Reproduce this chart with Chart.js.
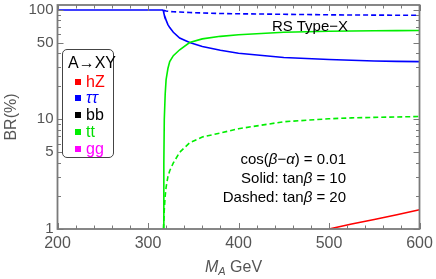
<!DOCTYPE html>
<html>
<head>
<meta charset="utf-8">
<script src="https://cdn.jsdelivr.net/npm/chart.js@4/dist/chart.umd.min.js"></script>
<style>
  html, body { margin: 0; padding: 0; background: #fff; }
  #wrap { position: relative; width: 436px; height: 279px; font-family: "Liberation Sans", Arial, sans-serif; }
  #chart { position: absolute; left: 0; top: 0; }
  .note { position: absolute; font-size: 15px; color: #000; white-space: nowrap; line-height: 1; }
  .legend {
    position: absolute; left: 62px; top: 49px; width: 52px; height: 109px;
    border: 1px solid #444; border-radius: 5px; background: #fff; box-sizing: border-box;
  }
  .legend .ttl { position: absolute; left: 5px; top: 5px; font-size: 16px; color: #000; line-height: 1; }
  .legend .item { position: absolute; left: 12px; font-size: 16px; line-height: 1; }
  .legend .sq { display: inline-block; width: 6px; height: 6px; margin-right: 5px; vertical-align: 2px; }
  .xtitle { position: absolute; left: 205px; top: 259px; font-size: 16px; color: #555; white-space: nowrap; line-height: 1; }
  .xtitle sub { font-size: 11px; vertical-align: -3px; }
</style>
</head>
<body>
<div id="wrap">
  <canvas id="chart" width="436" height="279"></canvas>

  <div class="legend">
    <div class="ttl">A→XY</div>
    <div class="item" style="top:24px;color:#ff0000"><span class="sq" style="background:#ff0000"></span>hZ</div>
    <div class="item" style="top:40px;color:#0000ff"><span class="sq" style="background:#0000ff"></span><i>ττ</i></div>
    <div class="item" style="top:57px;color:#000000"><span class="sq" style="background:#000000"></span>bb</div>
    <div class="item" style="top:74px;color:#00dd00"><span class="sq" style="background:#00ee00"></span>tt</div>
    <div class="item" style="top:91px;color:#ff00ff"><span class="sq" style="background:#ff00ff"></span>gg</div>
  </div>

  <div class="note" style="left:272px;top:18px">RS Type−X</div>
  <div class="note" style="right:90px;top:151px">cos(<i>β</i>−<i>α</i>) = 0.01</div>
  <div class="note" style="right:90px;top:170px">Solid: tan<i>β</i> = 10</div>
  <div class="note" style="right:90px;top:189px">Dashed: tan<i>β</i> = 20</div>
  <div class="xtitle"><i>M</i><sub><i>A</i></sub> GeV</div>
</div>

<script>
// M_A grid (GeV)
const mA = [200, 250, 300, 316, 317, 317.5, 318, 319, 320, 322, 324, 328, 335, 346, 360, 380, 400, 450, 500, 525, 550, 575, 600];

// branching ratios in %, null where the channel is closed
const tauSolid  = [99, 99, 99, 99, 97, 93, 89, 85, 80, 73, 68.5, 62, 55, 50, 46, 42.5, 40, 36.6, 35, 34.5, 34, 33.7, 33.5];
const ttSolid   = [null, null, null, null, 1, 4, 10, 17, 23, 29, 33.5, 38, 43, 50, 54, 57, 59, 62, 63.5, 63.8, 64, 64.3, 64.5];
const hzSolid   = [null, null, null, null, null, null, null, null, null, null, null, null, null, null, null, null, null, null, 1, 1.11, 1.22, 1.35, 1.5];
const tauDashed = [null, null, null, null, 99, 98.5, 98, 97.5, 97, 96.5, 96, 95.5, 95, 94, 93, 92, 91.5, 90.5, 89.5, 89.2, 89, 88.8, 88.7];
const ttDashed  = [null, null, null, null, 1, 1.2, 1.5, 2, 2.4, 3, 3.4, 4, 5, 6.1, 6.9, 7.5, 8.2, 9.5, 10.1, 10.3, 10.4, 10.5, 10.6];

const xTicks = [200, 300, 400, 500, 600];
const yTicks = [1, 5, 10, 50, 100];

const toPts = (vals) => mA.map((m, i) => ({ x: m, y: vals[i] }));

const axisGray = '#7a7a7a';
const labelGray = '#555';

function line(label, vals, color, dashed) {
    return {
        label: label,
        data: toPts(vals),
        borderColor: color,
        borderWidth: 1.6,
        borderDash: dashed ? [5, 3] : [],
        pointRadius: 0,
        tension: 0,
        spanGaps: false,
        fill: false
    };
}

// frame + inward tick marks, Mathematica style
const framePlugin = {
    id: 'frame',
    afterDatasetsDraw(chart) {
        const { ctx, chartArea: a, scales: { x, y } } = chart;
        ctx.save();
        ctx.strokeStyle = axisGray;
        ctx.lineWidth = 1;
        ctx.beginPath();
        for (let v = 200; v <= 600; v += 20) {
            const px = Math.round(x.getPixelForValue(v)) + 0.5;
            const len = v % 100 === 0 ? 6 : 3.5;
            ctx.moveTo(px, a.bottom); ctx.lineTo(px, a.bottom - len);
            ctx.moveTo(px, a.top); ctx.lineTo(px, a.top + len);
        }
        for (let d = 1; d <= 100; d *= 10) {
            for (let k = 1; k <= 9; k++) {
                const v = d * k;
                if (v > 100) break;
                const py = Math.round(y.getPixelForValue(v)) + 0.5;
                const len = (k === 1 || k === 5) ? 6 : 3.5;
                ctx.moveTo(a.left, py); ctx.lineTo(a.left + len, py);
                ctx.moveTo(a.right, py); ctx.lineTo(a.right - len, py);
            }
        }
        ctx.stroke();
        ctx.lineWidth = 1.8;
        ctx.strokeRect(a.left, a.top, a.right - a.left, a.bottom - a.top);
        ctx.restore();
    }
};

new Chart(document.getElementById('chart'), {
    type: 'line',
    data: {
        datasets: [
            line('ttSolid', ttSolid, '#00ee00', false),
            line('ttDashed', ttDashed, '#00ee00', true),
            line('tauDashed', tauDashed, '#0000ff', true),
            line('tauSolid', tauSolid, '#0000ff', false),
            line('hzSolid', hzSolid, '#ff0000', false)
        ]
    },
    options: {
        responsive: false,
        animation: false,
        devicePixelRatio: 1,
        layout: { padding: { left: 0, right: 16.5, top: 5, bottom: 0 } },
        plugins: { legend: { display: false }, tooltip: { enabled: false } },
        scales: {
            x: {
                type: 'linear',
                min: 200,
                max: 600,
                afterBuildTicks: (s) => { s.ticks = xTicks.map(v => ({ value: v })); },
                afterFit: (s) => { s.height = 50; s.paddingLeft = 0; s.paddingRight = 0; },
                grid: { display: false, drawTicks: false },
                border: { display: false },
                ticks: { padding: 5, color: labelGray, font: { family: 'Liberation Sans', size: 16 } }
            },
            y: {
                type: 'logarithmic',
                min: 1,
                max: 110,
                afterBuildTicks: (s) => { s.ticks = yTicks.map(v => ({ value: v })); },
                afterFit: (s) => { s.width = 57.5; s.paddingTop = 0; s.paddingBottom = 0; },
                grid: { display: false, drawTicks: false },
                border: { display: false },
                ticks: {
                    padding: 4,
                    color: labelGray,
                    font: { family: 'Liberation Sans', size: 15 },
                    callback: (v) => String(v)
                },
                title: {
                    display: true,
                    text: 'BR(%)',
                    color: labelGray,
                    padding: { top: 2, bottom: 0 },
                    font: { family: 'Liberation Sans', size: 16 }
                }
            }
        }
    },
    plugins: [framePlugin]
});
</script>
</body>
</html>
